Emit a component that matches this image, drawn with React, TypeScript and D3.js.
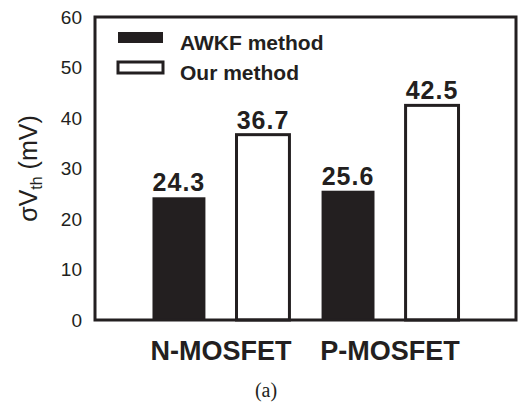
import React, { useEffect, useRef } from 'react';
import * as d3 from 'd3';

const devices = ['N-MOSFET', 'P-MOSFET'];
const methods = ['AWKF method', 'Our method'];
const awkfValues = [24.3, 25.6];
const ourValues = [36.7, 42.5];
const yTicks = [0, 10, 20, 30, 40, 50, 60];

const ink = '#231f20';

const App = () => {
  const svgRef = useRef<SVGSVGElement>(null);

  useEffect(() => {
    const width = 518;
    const height = 407;
    const margin = { top: 17, right: 2, bottom: 87, left: 95 };

    const svg = d3.select(svgRef.current);
    svg.selectAll('*').remove();

    const x0 = d3.scaleBand()
      .domain(devices)
      .range([margin.left, width - margin.right])
      .paddingInner(0.19)
      .paddingOuter(0.34);

    const x1 = d3.scaleBand()
      .domain(methods)
      .range([0, x0.bandwidth()])
      .paddingInner(0.37)
      .paddingOuter(0);

    const y = d3.scaleLinear()
      .domain([0, 60])
      .range([height - margin.bottom, margin.top]);

    const rows = devices.map((d, i) => ({
      device: d,
      values: [
        { method: methods[0], value: awkfValues[i] },
        { method: methods[1], value: ourValues[i] },
      ],
    }));

    // y tick labels (no tick marks)
    svg.append('g')
      .selectAll('text')
      .data(yTicks)
      .enter().append('text')
      .attr('x', margin.left - 13)
      .attr('y', d => y(d))
      .attr('dy', '0.35em')
      .attr('text-anchor', 'end')
      .attr('font-family', 'Liberation Sans, Arial, sans-serif')
      .attr('font-size', 19)
      .attr('fill', ink)
      .text(d => d);

    // y axis title
    const yTitle = svg.append('text')
      .attr('transform', `translate(37,${(y(0) + y(60)) / 2}) rotate(-90)`)
      .attr('text-anchor', 'middle')
      .attr('font-family', 'Liberation Sans, Arial, sans-serif')
      .attr('font-size', 25)
      .attr('fill', ink);
    yTitle.append('tspan').text('σV');
    yTitle.append('tspan').attr('font-size', 16).attr('dy', 5).text('th');
    yTitle.append('tspan').attr('dy', -5).text(' (mV)');

    // bars
    const groups = svg.append('g')
      .selectAll('g')
      .data(rows)
      .enter().append('g')
      .attr('transform', d => `translate(${x0(d.device)},0)`);

    groups.selectAll('rect')
      .data(d => d.values)
      .enter().append('rect')
      .attr('x', d => x1(d.method)!)
      .attr('y', d => y(d.value))
      .attr('width', x1.bandwidth())
      .attr('height', d => y(0) - y(d.value))
      .attr('fill', d => (d.method === methods[0] ? ink : '#fff'))
      .attr('stroke', d => (d.method === methods[0] ? 'none' : ink))
      .attr('stroke-width', 3);

    groups.selectAll('text')
      .data(d => d.values)
      .enter().append('text')
      .attr('x', d => x1(d.method)! + x1.bandwidth() / 2)
      .attr('y', d => y(d.value) - 6)
      .attr('text-anchor', 'middle')
      .attr('font-family', 'Liberation Sans, Arial, sans-serif')
      .attr('font-weight', 'bold')
      .attr('font-size', 25)
      .attr('letter-spacing', 1)
      .attr('fill', ink)
      .text(d => d.value.toFixed(1));

    // frame
    svg.append('rect')
      .attr('x', margin.left)
      .attr('y', margin.top)
      .attr('width', width - margin.right - margin.left)
      .attr('height', y(0) - margin.top)
      .attr('fill', 'none')
      .attr('stroke', ink)
      .attr('stroke-width', 3);

    // x category labels
    svg.append('g')
      .selectAll('text')
      .data(devices)
      .enter().append('text')
      .attr('x', d => x0(d)! + x0.bandwidth() / 2)
      .attr('y', 360)
      .attr('text-anchor', 'middle')
      .attr('font-family', 'Liberation Sans, Arial, sans-serif')
      .attr('font-weight', 'bold')
      .attr('font-size', 27)
      .attr('fill', ink)
      .text(d => d);

    // legend
    const legend = svg.append('g')
      .selectAll('g')
      .data(methods)
      .enter().append('g')
      .attr('transform', (d, i) => `translate(118,${32 + i * 30})`);

    legend.append('rect')
      .attr('x', 0)
      .attr('y', 0)
      .attr('width', 45)
      .attr('height', 11)
      .attr('fill', (d, i) => (i === 0 ? ink : '#fff'))
      .attr('stroke', (d, i) => (i === 0 ? 'none' : ink))
      .attr('stroke-width', 3);

    legend.append('text')
      .attr('x', 62)
      .attr('y', 18)
      .attr('font-family', 'Liberation Sans, Arial, sans-serif')
      .attr('font-weight', 'bold')
      .attr('font-size', 21)
      .attr('fill', ink)
      .text(d => d);

    // caption
    svg.append('text')
      .attr('x', 266)
      .attr('y', 397)
      .attr('text-anchor', 'middle')
      .attr('font-family', 'Liberation Serif, Times New Roman, serif')
      .attr('font-size', 20)
      .attr('fill', ink)
      .text('(a)');
  }, []);

  return (
    <svg
      ref={svgRef}
      width={518}
      height={407}
      style={{ position: 'absolute', left: 0, top: 0, background: '#fff' }}
    />
  );
};

export default App;
